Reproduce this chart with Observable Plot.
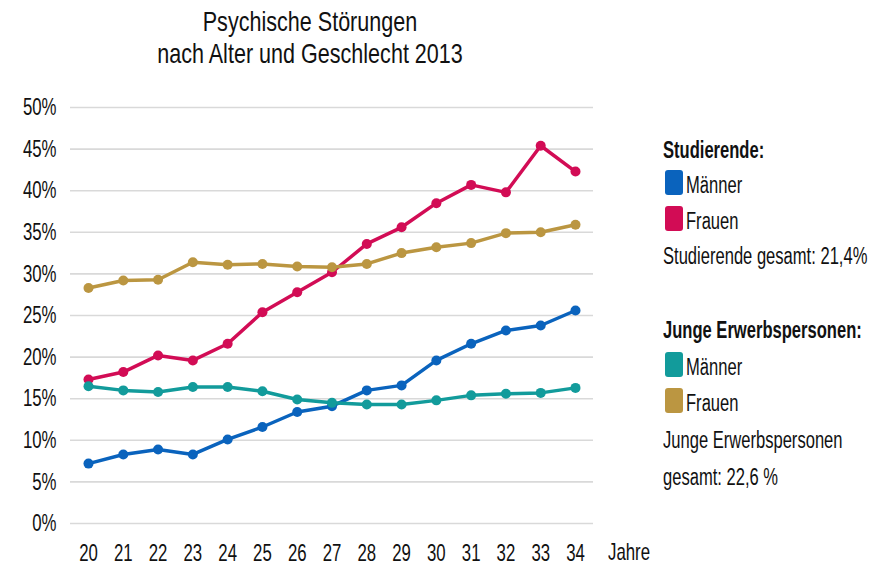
<!DOCTYPE html>
<html>
<head>
<meta charset="utf-8">
<script src="https://cdn.jsdelivr.net/npm/d3@7"></script>
<script src="https://cdn.jsdelivr.net/npm/@observablehq/plot@0.6"></script>
<style>
  html, body { margin: 0; padding: 0; background: #fff; }
  #wrap { position: relative; width: 873px; height: 566px; overflow: hidden;
    font-family: "Liberation Sans", Arial, sans-serif; color: #111; }
  #chart { position: absolute; left: 0; top: 0; }
  .title { position: absolute; left: 0; width: 620px; top: 6px; text-align: center; font-size: 28px; line-height: 32px;
    transform: scaleX(0.77); transform-origin: 310px 0; white-space: nowrap; }
  .lg { position: absolute; font-size: 23px; line-height: 28px; white-space: nowrap;
    transform: scaleX(0.72); transform-origin: 0 0; }
  .lg b { font-weight: bold; }
  .sw { position: absolute; left: 665px; width: 18px; height: 25px; border-radius: 3px; }
  .jahre { position: absolute; left: 608px; top: 538px; font-size: 24px; line-height: 28px;
    transform: scaleX(0.7); transform-origin: 0 0; }
</style>
</head>
<body>
<div id="wrap">
  <div id="chart"></div>
  <div class="title">Psychische Störungen<br>nach Alter und Geschlecht 2013</div>
  <div class="jahre">Jahre</div>
  <div id="legend"></div>
</div>
<script>
const ages = [20, 21, 22, 23, 24, 25, 26, 27, 28, 29, 30, 31, 32, 33, 34];
const studMaenner = [7.2, 8.3, 8.9, 8.3, 10.1, 11.6, 13.4, 14.1, 16.0, 16.6, 19.6, 21.6, 23.2, 23.8, 25.6];
const studFrauen = [17.3, 18.2, 20.2, 19.6, 21.6, 25.4, 27.8, 30.2, 33.6, 35.6, 38.5, 40.7, 39.8, 45.4, 42.3];
const jeMaenner = [16.5, 16.0, 15.8, 16.4, 16.4, 15.9, 14.9, 14.5, 14.3, 14.3, 14.8, 15.4, 15.6, 15.7, 16.3];
const jeFrauen = [28.3, 29.2, 29.3, 31.4, 31.1, 31.2, 30.9, 30.8, 31.2, 32.5, 33.2, 33.7, 34.9, 35.0, 35.9];
const yTicks = [0, 5, 10, 15, 20, 25, 30, 35, 40, 45, 50];

const seriesNames = ["Studierende Männer", "Studierende Frauen", "Junge Erwerbspersonen Männer", "Junge Erwerbspersonen Frauen"];
const seriesColors = ["#0a63bd", "#d20c55", "#129b9b", "#bb9641"];
const seriesValues = [studMaenner, studFrauen, jeMaenner, jeFrauen];

const data = seriesNames.flatMap((s, i) => ages.map((a, j) => ({series: s, age: a, value: seriesValues[i][j]})));

const chart = Plot.plot({
  width: 873,
  height: 566,
  marginLeft: 70,
  marginRight: 280,
  marginTop: 107,
  marginBottom: 43,
  style: {fontFamily: "'Liberation Sans', Arial, sans-serif", fontSize: "24px", color: "#111", background: "transparent"},
  x: {domain: [20, 34], inset: 18, ticks: ages, tickFormat: d => String(d), label: null},
  y: {domain: [0, 50], ticks: yTicks, tickFormat: d => d + "%", label: null},
  color: {domain: seriesNames, range: seriesColors},
  marks: [
    Plot.ruleY(yTicks, {stroke: "#d9d9d9", strokeWidth: 1.6}),
    Plot.axisY({ticks: yTicks, tickSize: 0, tickPadding: 14, tickFormat: d => d + "%", label: null, fontSize: 24}),
    Plot.axisX({ticks: ages, tickSize: 0, tickPadding: 20, tickFormat: d => String(d), label: null, fontSize: 24}),
    Plot.line(data, {x: "age", y: "value", z: "series", stroke: "series", strokeWidth: 3.5, strokeLinejoin: "round", strokeLinecap: "round"}),
    Plot.dot(data, {x: "age", y: "value", fill: "series", r: 5, stroke: null})
  ]
});
// narrow the tick labels horizontally (condensed look of the original)
chart.querySelectorAll('g[aria-label$="tick label"] text').forEach(t => {
  const tr = t.getAttribute("transform") || "";
  t.setAttribute("transform", tr + " scale(0.7,1)");
});
document.getElementById("chart").appendChild(chart);

const legendRows = [
  {base: 158, html: "<b>Studierende:</b>"},
  {base: 193, color: 0, label: "Männer"},
  {base: 229, color: 1, label: "Frauen"},
  {base: 264, html: "Studierende gesamt: 21,4%"},
  {base: 338, html: "<b>Junge Erwerbspersonen:</b>"},
  {base: 375, color: 2, label: "Männer"},
  {base: 411, color: 3, label: "Frauen"},
  {base: 448, html: "Junge Erwerbspersonen"},
  {base: 485, html: "gesamt: 22,6 %"}
];
const lg = document.getElementById("legend");
for (const r of legendRows) {
  const d = document.createElement("div");
  d.className = "lg";
  d.style.top = (r.base - 22) + "px";
  if (r.html) {
    d.style.left = "663px";
    d.innerHTML = r.html;
  } else {
    d.style.left = "686px";
    d.textContent = r.label;
    const s = document.createElement("div");
    s.className = "sw";
    s.style.top = (r.base - 23) + "px";
    s.style.background = seriesColors[r.color];
    lg.appendChild(s);
  }
  lg.appendChild(d);
}
</script>
</body>
</html>
